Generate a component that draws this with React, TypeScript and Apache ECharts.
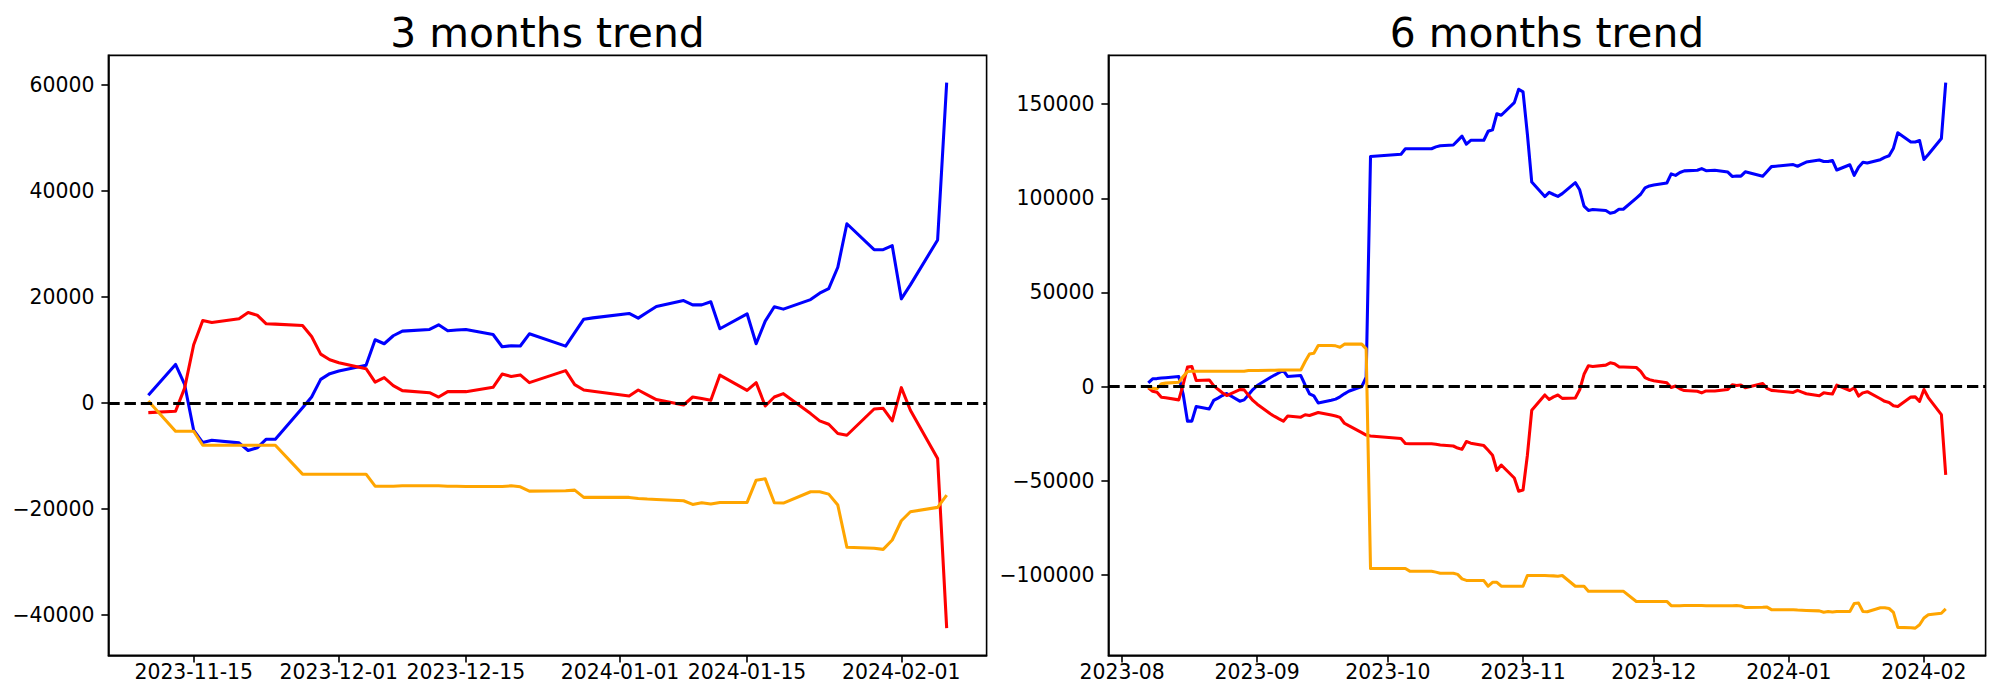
import React, { useEffect, useRef } from "react";
import * as echarts from "echarts";

// ---------- 3 months trend ----------
const dates3m = [
  "2023-11-10","2023-11-13","2023-11-14","2023-11-15","2023-11-16","2023-11-17","2023-11-20","2023-11-21","2023-11-22","2023-11-23","2023-11-24",
  "2023-11-27","2023-11-28","2023-11-29","2023-11-30","2023-12-01","2023-12-04","2023-12-05","2023-12-06","2023-12-07","2023-12-08",
  "2023-12-11","2023-12-12","2023-12-13","2023-12-14","2023-12-15","2023-12-18","2023-12-19","2023-12-20","2023-12-21","2023-12-22",
  "2023-12-26","2023-12-27","2023-12-28","2023-12-29","2024-01-02","2024-01-03","2024-01-04","2024-01-05","2024-01-08","2024-01-09",
  "2024-01-10","2024-01-11","2024-01-12","2024-01-15","2024-01-16","2024-01-17","2024-01-18","2024-01-19","2024-01-22","2024-01-23",
  "2024-01-24","2024-01-25","2024-01-26","2024-01-29","2024-01-30","2024-01-31","2024-02-01","2024-02-02","2024-02-05","2024-02-06",
];
const blue3m = [
  1450, 7280, 3500, -5140, -7460, -7020, -7520, -8960, -8460, -6830, -6830,
  -900, 1130, 4460, 5530, 6030, 7100, 11930, 11170, 12680, 13550,
  13870, 14740, 13620, 13750, 13870, 12920, 10600, 10800, 10750, 13050,
  10730, 13250, 15800, 16050, 16880, 16000, 17100, 18200, 19320, 18500,
  18500, 19080, 14000, 16820, 11180, 15430, 18140, 17700, 19500, 20700,
  21580, 25600, 33800, 28900, 28900, 29670, 19640, 22280, 30740, 60400,
];
const red3m = [
  -1810, -1560, 2800, 10980, 15550, 15180, 15870, 17060, 16560, 14930, 14870,
  14600, 12550, 9220, 8160, 7600, 6470, 3950, 4780, 3270, 2330,
  1950, 1130, 2140, 2140, 2140, 2950, 5460, 5000, 5300, 3840,
  6100, 3460, 2450, 2200, 1320, 2450, 1540, 640, -380, 1130,
  830, 500, 5270, 2390, 3840, -560, 1130, 1760, -2000, -3380,
  -4000, -5760, -6080, -1130, -1000, -3380, 2900, -1370, -10470, -42450,
];
const orange3m = [
  380, -5330, -5330, -5330, -7960, -7960, -7960, -7960, -7960, -7960, -7960,
  -13420, -13420, -13420, -13420, -13420, -13420, -15680, -15700, -15680, -15600,
  -15600, -15600, -15680, -15700, -15740, -15740, -15740, -15620, -15800, -16620,
  -16560, -16430, -17800, -17800, -17800, -17990, -18120, -18200, -18430, -19120,
  -18800, -19060, -18750, -18750, -14550, -14300, -18800, -18870, -16740, -16740,
  -17180, -19250, -27200, -27400, -27600, -25830, -22200, -20500, -19680, -17370,
];
const xTicks3m = ["2023-11-15", "2023-12-01", "2023-12-15", "2024-01-01", "2024-01-15", "2024-02-01"];
const yTicks3m = [-40000, -20000, 0, 20000, 40000, 60000];

// ---------- 6 months trend ----------
const dates6m = [
  "2023-08-07","2023-08-08","2023-08-09","2023-08-10","2023-08-11","2023-08-14","2023-08-15","2023-08-16","2023-08-17","2023-08-18",
  "2023-08-21","2023-08-22","2023-08-23","2023-08-24","2023-08-25","2023-08-28","2023-08-29","2023-08-30","2023-08-31",
  "2023-09-01","2023-09-04","2023-09-05","2023-09-06","2023-09-07","2023-09-08","2023-09-11","2023-09-12","2023-09-13","2023-09-14",
  "2023-09-15","2023-09-18","2023-09-19","2023-09-20","2023-09-21","2023-09-22","2023-09-25","2023-09-26","2023-09-27",
  "2023-10-04","2023-10-05","2023-10-06","2023-10-09","2023-10-10","2023-10-11","2023-10-12","2023-10-13","2023-10-16","2023-10-17",
  "2023-10-18","2023-10-19","2023-10-20","2023-10-23","2023-10-24","2023-10-25","2023-10-26","2023-10-27","2023-10-30","2023-10-31",
  "2023-11-01","2023-11-02","2023-11-03","2023-11-06","2023-11-07","2023-11-08","2023-11-09",
  "2023-11-10","2023-11-13","2023-11-14","2023-11-15","2023-11-16","2023-11-17","2023-11-20","2023-11-21","2023-11-22","2023-11-23","2023-11-24",
  "2023-11-27","2023-11-28","2023-11-29","2023-11-30","2023-12-01","2023-12-04","2023-12-05","2023-12-06","2023-12-07","2023-12-08",
  "2023-12-11","2023-12-12","2023-12-13","2023-12-14","2023-12-15","2023-12-18","2023-12-19","2023-12-20","2023-12-21","2023-12-22",
  "2023-12-26","2023-12-27","2023-12-28","2023-12-29","2024-01-02","2024-01-03","2024-01-04","2024-01-05","2024-01-08","2024-01-09",
  "2024-01-10","2024-01-11","2024-01-12","2024-01-15","2024-01-16","2024-01-17","2024-01-18","2024-01-19","2024-01-22","2024-01-23",
  "2024-01-24","2024-01-25","2024-01-26","2024-01-29","2024-01-30","2024-01-31","2024-02-01","2024-02-02","2024-02-05","2024-02-06",
];
const blue6m = [
  1900, 4100, 4200, 4500, 4700, 5300, -4000, -18400, -18400, -10600,
  -11900, -7400, -6200, -4800, -3700, -7800, -7100, -4400, -1600,
  500, 4800, 6100, 7300, 8500, 5300, 5800, 800, -3900, -5000,
  -8800, -7300, -6700, -5500, -3900, -2500, 0, 5000, 122200,
  123400, 126300, 126300, 126300, 126300, 126300, 127300, 127900, 128300, 130600,
  133000, 128700, 130800, 130800, 135600, 136400, 144900, 144100, 150800, 157900,
  156500, 134000, 108600, 100900, 103100, 102000, 101000,
  102450, 108280, 104500, 95860, 93540, 93980, 93480, 92040, 92540, 94170, 94170,
  100100, 102130, 105460, 106530, 107030, 108100, 112930, 112170, 113680, 114550,
  114870, 115740, 114620, 114750, 114870, 113920, 111600, 111800, 111750, 114050,
  111730, 114250, 116800, 117050, 117880, 117000, 118100, 119200, 120320, 119500,
  119500, 120080, 115000, 117820, 112180, 116430, 119140, 118700, 120500, 121700,
  122580, 126600, 134800, 129900, 129900, 130670, 120640, 123280, 131740, 161400,
];
const red6m = [
  -700, -2500, -3000, -5700, -6000, -7100, 1000, 10300, 10600, 3200,
  3500, 500, -1500, -3300, -4800, -1600, -1800, -4700, -7400,
  -9400, -14500, -15900, -17200, -18400, -15700, -16300, -15000, -15400, -14600,
  -13800, -15200, -15700, -16400, -19500, -20800, -24500, -25800, -26300,
  -27600, -30300, -30400, -30400, -30400, -30400, -30700, -31100, -31600, -32700,
  -33400, -29200, -30100, -31400, -33900, -36500, -44600, -41700, -48600, -55600,
  -55000, -36500, -12600, -4500, -6900, -5500, -4500,
  -6310, -6060, -1700, 6480, 11050, 10680, 11370, 12560, 12060, 10430, 10370,
  10100, 8050, 4720, 3660, 3100, 1970, -550, 280, -1230, -2170,
  -2550, -3370, -2360, -2360, -2360, -1550, 960, 500, 800, -660,
  1600, -1040, -2050, -2300, -3180, -2050, -2960, -3860, -4880, -3370,
  -3670, -4000, 770, -2110, -660, -5060, -3370, -2740, -6500, -7880,
  -8500, -10260, -10580, -5630, -5500, -7880, -1600, -5870, -14970, -46950,
];
const orange6m = [
  -700, -900, -1200, 1400, 1800, 2300, 5300, 8000, 8100, 8100,
  8100, 8100, 8100, 8100, 8100, 8100, 8100, 8500, 8500,
  8500, 8600, 8600, 8700, 8700, 8800, 8800, 13300, 17300, 17700,
  21800, 21800, 21600, 20900, 22500, 22500, 22500, 20000, -96700,
  -96700, -96700, -98100, -98100, -98100, -98100, -98600, -99200, -99200, -99800,
  -102200, -103000, -103100, -103100, -106100, -104000, -104000, -106100, -106100, -106100,
  -106100, -100400, -100400, -100400, -100500, -100600, -100750,
  -100370, -106080, -106080, -106080, -108710, -108710, -108710, -108710, -108710, -108710, -108710,
  -114170, -114170, -114170, -114170, -114170, -114170, -116430, -116450, -116430, -116350,
  -116350, -116350, -116430, -116450, -116490, -116490, -116490, -116370, -116550, -117370,
  -117310, -117180, -118550, -118550, -118550, -118740, -118870, -118950, -119180, -119870,
  -119550, -119810, -119500, -119500, -115300, -115050, -119550, -119620, -117490, -117490,
  -117930, -120000, -127950, -128150, -128350, -126580, -122950, -121250, -120430, -118120,
];
const xTicks6m = ["2023-08-01", "2023-09-01", "2023-10-01", "2023-11-01", "2023-12-01", "2024-01-01", "2024-02-01"];
const yTicks6m = [-100000, -50000, 0, 50000, 100000, 150000];

const COLORS = { blue: "#0000ff", red: "#ff0000", orange: "#ffa500" };
const FONT = "DejaVu Sans";
const LW = 3.06;

const ts = (s: string) => {
  const [y, m, d] = s.split("-").map(Number);
  return Date.UTC(y, m - 1, d);
};
const pad = (n: number) => (n < 10 ? "0" + n : "" + n);
const fmtDay = (v: number) => {
  const d = new Date(v);
  return `${d.getUTCFullYear()}-${pad(d.getUTCMonth() + 1)}-${pad(d.getUTCDate())}`;
};
const fmtMonth = (v: number) => {
  const d = new Date(v);
  return `${d.getUTCFullYear()}-${pad(d.getUTCMonth() + 1)}`;
};
const fmtY = (v: number) => (v < 0 ? "\u2212" + Math.abs(v) : String(v));

function range(vals: number[], frac = 0.05) {
  const mn = Math.min(...vals);
  const mx = Math.max(...vals);
  const span = mx - mn;
  return [mn - span * frac, mx + span * frac];
}

const GRIDS = [
  { left: 108.4, top: 55.4, width: 878.2, height: 600 },
  { left: 1108.4, top: 55.4, width: 877.2, height: 600 },
];

function buildOption() {
  const panels = [
    { dates: dates3m, blue: blue3m, red: red3m, orange: orange3m, xTicks: xTicks3m, yTicks: yTicks3m, fmt: fmtDay, title: "3 months trend" },
    { dates: dates6m, blue: blue6m, red: red6m, orange: orange6m, xTicks: xTicks6m, yTicks: yTicks6m, fmt: fmtMonth, title: "6 months trend" },
  ];
  const grid: any[] = [];
  const xAxis: any[] = [];
  const yAxis: any[] = [];
  const series: any[] = [];
  const graphic: any[] = [];

  panels.forEach((p, i) => {
    const g = GRIDS[i];
    grid.push({ ...g, show: true, borderColor: "#000", borderWidth: 1.6, backgroundColor: "transparent" });
    const times = p.dates.map(ts);
    const [xmin, xmax] = range(times);
    const [ymin, ymax] = range([...p.blue, ...p.red, ...p.orange]);
    const xtv = p.xTicks.map(ts);
    xAxis.push({
      type: "value",
      gridIndex: i,
      min: xmin,
      max: xmax,
      axisLine: { show: true, onZero: false, lineStyle: { color: "#000", width: 1.6 } },
      axisTick: { show: true, customValues: xtv, length: 7, lineStyle: { color: "#000", width: 1.6 } },
      axisLabel: { show: true, customValues: xtv, formatter: p.fmt, fontSize: 20.4, fontFamily: FONT, color: "#000", margin: 7 },
      splitLine: { show: false },
    });
    yAxis.push({
      type: "value",
      gridIndex: i,
      min: ymin,
      max: ymax,
      axisLine: { show: true, onZero: false, lineStyle: { color: "#000", width: 1.6 } },
      axisTick: { show: true, customValues: p.yTicks, length: 7, lineStyle: { color: "#000", width: 1.6 } },
      axisLabel: { show: true, customValues: p.yTicks, formatter: fmtY, fontSize: 20.4, fontFamily: FONT, color: "#000", margin: 14 },
      splitLine: { show: false },
    });
    const mk = (name: string, vals: number[], color: string, z: number, extra: any = {}) => ({
      name,
      type: "line",
      xAxisIndex: i,
      yAxisIndex: i,
      data: times.map((t, k) => [t, vals[k]]),
      showSymbol: false,
      symbol: "none",
      lineStyle: { color, width: LW, cap: "butt", join: "round" },
      itemStyle: { color },
      z,
      clip: true,
      silent: true,
      ...extra,
    });
    series.push(mk("blue", p.blue, COLORS.blue, 2));
    series.push(mk("red", p.red, COLORS.red, 3));
    series.push(
      mk("orange", p.orange, COLORS.orange, 4, {
        markLine: {
          silent: true,
          symbol: ["none", "none"],
          label: { show: false },
          lineStyle: { color: "#000", type: [11.3, 4.9], width: LW },
          data: [{ yAxis: 0 }],
          z: 10,
        },
      })
    );
    graphic.push({
      type: "text",
      x: g.left + g.width / 2,
      y: 32.8,
      style: { text: p.title, fontSize: 40.8, fontFamily: FONT, fill: "#000", align: "center", verticalAlign: "middle" },
    });
  });

  return {
    animation: false,
    backgroundColor: "#ffffff",
    grid,
    xAxis,
    yAxis,
    series,
    graphic,
  };
}

export default function App() {
  const ref = useRef<HTMLDivElement>(null);
  useEffect(() => {
    if (!ref.current) return;
    const chart = echarts.init(ref.current, undefined, { renderer: "svg" });
    chart.setOption(buildOption() as any);
    return () => chart.dispose();
  }, []);
  return <div ref={ref} style={{ position: "absolute", left: 0, top: 0, width: 2000, height: 700, background: "#fff" }} />;
}
